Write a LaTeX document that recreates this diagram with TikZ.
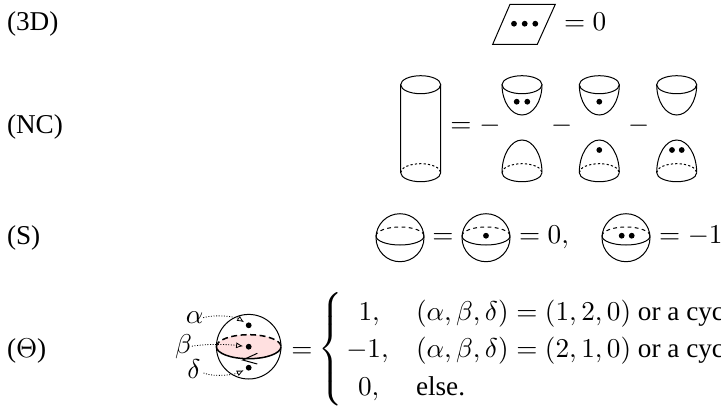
\documentclass[tikz,border=0pt]{standalone}
\usepackage[no-math]{fontspec}
\setmainfont{Liberation Serif}
\usetikzlibrary{arrows.meta}
\definecolor{pinkfill}{RGB}{255,224,224}
\tikzset{
  x=1pt,y=-1pt,
  lbl/.style={anchor=base west,inner sep=0pt,outer sep=0pt,scale=2.72},
  eqn/.style={anchor=base,inner sep=0pt,outer sep=0pt,scale=2.72},
  dotm/.style={circle,fill=black,inner sep=0pt,minimum size=5.8pt},
  surf/.style={line width=1pt},
  hid/.style={line width=1pt,dash pattern=on 3.8pt off 3.4pt},
  hidd/.style={line width=1pt,dash pattern=on 2.2pt off 2.2pt},
  ptr/.style={line width=.8pt,dash pattern=on 1pt off 1.6pt,-{Latex[open,length=7pt,width=6pt]},shorten >=2.5pt},
}
\newcommand{\cupshape}[1]{%
  \draw[surf] (#1,84.7) ellipse (20 and 9);
  \draw[surf] (#1-20,84.7) arc[start angle=180,end angle=360,x radius=20,y radius=-30.3];}
\newcommand{\capshape}[1]{%
  \draw[surf] (#1-20,172.7) arc[start angle=180,end angle=0,x radius=20,y radius=9];
  \draw[hidd] (#1-20,172.7) arc[start angle=180,end angle=360,x radius=20,y radius=9];
  \draw[surf] (#1-20,172.7) arc[start angle=180,end angle=0,x radius=20,y radius=-32.7];}
\newcommand{\sphereshape}[1]{%
  \draw[surf] (#1,237.7) circle (24);
  \draw[surf] (#1-24,236) arc[start angle=180,end angle=0,x radius=24,y radius=9];
  \draw[hid] (#1-24,236) arc[start angle=180,end angle=360,x radius=24,y radius=9];}
\begin{document}
\begin{tikzpicture}
\useasboundingbox (0,0) rectangle (721,408);
\clip (0,0) rectangle (721,408);
% left labels
\node[lbl] (l3d) at (7,30) {(3D)};
\node[lbl] (lnc) at (7,133) {(NC)};
\node[lbl] (ls) at (7,244) {(S)};
\node[lbl] (lth) at (7,357) {($\Theta$)};
% 3D
\draw[surf] (510,4.3) -- (555.3,4.3) -- (537.3,44.3) -- (492.7,44.3) -- cycle;
\node[dotm] (d1) at (514,23.7) {};
\node[dotm] (d2) at (524.7,23.7) {};
\node[dotm] (d3) at (535.3,23.7) {};
\node[lbl] (e3d) at (556.5,30) {${}=0$};
% cylinder
\draw[surf] (420.7,84.7) ellipse (20 and 9);
\draw[surf] (400.7,84.7) -- (400.7,172.7) arc[start angle=180,end angle=0,x radius=20,y radius=9] -- (440.7,84.7);
\draw[hidd] (400.7,172.7) arc[start angle=180,end angle=360,x radius=20,y radius=9];
\node[eqn] (enc) at (461,132) {$=$};
\node[eqn] (m1) at (490,132) {$-$};
\node[eqn] (m2) at (561.7,132) {$-$};
\node[eqn] (m3) at (638.7,132) {$-$};
\cupshape{522}\cupshape{599.3}\cupshape{676.7}
\capshape{522}\capshape{599.3}\capshape{676.7}
\node[dotm] at (516.7,101.7) {};
\node[dotm] at (527.3,101.7) {};
\node[dotm] at (599.3,101.7) {};
\node[dotm] at (599.3,150) {};
\node[dotm] at (672,150) {};
\node[dotm] at (681.7,150) {};
% S
\sphereshape{400}\sphereshape{486}\sphereshape{626}
\node[dotm] at (486,235.7) {};
\node[dotm] at (621.7,235.7) {};
\node[dotm] at (631.7,235.7) {};
\node[eqn] at (443,243) {$=$};
\node[lbl] at (511.5,243) {${}=0,$};
\node[lbl] at (651.5,243) {${}=-1$};
% Theta
\fill[pinkfill] (248.7,346.7) ellipse (32.3 and 12);
\draw[surf] (248.7,346.7) circle (32.3);
\draw[line width=1.5pt] (216.4,346.7) arc[start angle=180,end angle=0,x radius=32.3,y radius=12];
\draw[line width=1.5pt,dash pattern=on 6pt off 3.5pt] (216.4,346.7) arc[start angle=180,end angle=360,x radius=32.3,y radius=12];
\draw[surf] (257.3,353.3) -- (242.7,360) -- (257.3,364);
\node[dotm] (da) at (248.7,325.3) {};
\node[dotm] (db) at (248.7,346.7) {};
\node[dotm] (dd) at (248.7,367.7) {};
\node[eqn] (ta) at (194.5,323.5) {$\alpha$};
\node[eqn] (tb) at (183.5,353) {$\beta$};
\node[eqn] (td) at (194,378) {$\delta$};
\coordinate (tds) at (203.5,373);
\draw[ptr] (ta.east) .. controls +(14,-4) and +(-12,-8) .. (da);
\draw[ptr] (tb.east) .. controls +(18,-3) and +(-18,-2) .. (db);
\draw[ptr] (tds) .. controls +(12,5) and +(-12,6) .. (dd);
\node[eqn] (eth) at (302,357) {$=$};
\node[anchor=center,inner sep=0pt,scale=2.72] (brace) at (332,350) {$\left\{\rule[-19pt]{0pt}{38pt}\right.$};
\node[lbl] at (358.5,320) {$1,$};
\node[lbl] at (346.3,357) {$-1,$};
\node[lbl] at (358,395) {$0,$};
\node[lbl] at (416,320) {$(\alpha,\beta,\delta)=(1,2,0)$ or a cyc};
\node[lbl] at (416,357) {$(\alpha,\beta,\delta)=(2,1,0)$ or a cyc};
\node[lbl] at (416,395) {else.};
\end{tikzpicture}
\end{document}
